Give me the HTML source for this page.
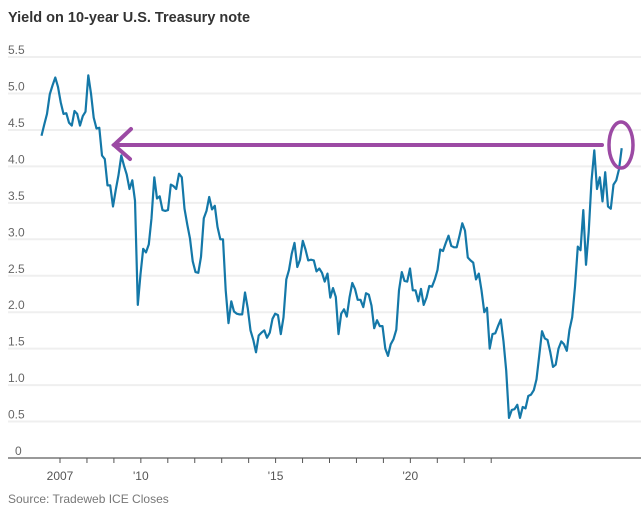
<!DOCTYPE html>
<html><head><meta charset="utf-8"><style>
body{margin:0;background:#fff;width:641px;height:517px;overflow:hidden;font-family:"Liberation Sans",sans-serif}
</style></head><body>
<svg width="641" height="517" id="chart">
<text x="8" y="22" font-size="14.5" font-weight="bold" fill="#333">Yield on 10-year U.S. Treasury note</text>
<text x="8" y="503" font-size="12" fill="#777">Source: Tradeweb ICE Closes</text>
<g id="grid"></g><g id="xaxis"></g>
<path id="line" fill="none" stroke="#1478a8" stroke-width="2.2" stroke-linejoin="round"/>
<g stroke="#9c4aa4" stroke-width="4" fill="none" stroke-linecap="round">
<line x1="114" y1="145" x2="602" y2="145"/>
<polyline points="131,129 114,145 130,159"/>
</g>
<ellipse cx="621" cy="145" rx="12" ry="23" fill="none" stroke="#9c4aa4" stroke-width="3.5"/>
</svg>
<script>
const yTicks=[0,0.5,1.0,1.5,2.0,2.5,3.0,3.5,4.0,4.5,5.0,5.5];
const xTickYears=[2006.56,2007.37,2008.18,2009.0,2009.79,2010.6,2011.42,2012.23,2013.05,2013.86,2014.68,2015.5,2016.3,2017.1,2017.92,2018.76,2019.58];
const xLabels=[{t:2006.56,s:"2007"},{t:2009.0,s:"'10"},{t:2013.05,s:"'15"},{t:2017.1,s:"'20"}];
const startYear=2006.0;
const yields=[
4.42,4.57,4.72,4.99,5.11,5.22,5.09,4.88,4.72,4.73,4.60,4.56,
4.76,4.72,4.56,4.69,4.75,5.25,5.00,4.67,4.52,4.53,4.15,4.10,
3.74,3.74,3.45,3.68,3.88,4.15,4.01,3.89,3.69,3.81,3.53,2.10,
2.52,2.87,2.82,2.93,3.29,3.85,3.56,3.59,3.40,3.39,3.40,3.75,
3.73,3.69,3.90,3.85,3.42,3.20,3.01,2.70,2.55,2.54,2.76,3.29,
3.39,3.58,3.41,3.46,3.17,3.00,3.00,2.30,1.85,2.15,2.01,1.98,
1.97,1.97,2.27,2.05,1.75,1.62,1.45,1.68,1.72,1.75,1.65,1.72,
1.91,1.98,1.96,1.70,1.93,2.45,2.58,2.80,2.95,2.62,2.72,2.98,
2.86,2.71,2.72,2.71,2.56,2.60,2.54,2.42,2.53,2.20,2.33,2.21,
1.70,1.98,2.04,1.94,2.20,2.40,2.32,2.17,2.17,2.07,2.26,2.24,
2.09,1.78,1.89,1.81,1.81,1.50,1.40,1.56,1.63,1.76,2.30,2.55,
2.43,2.42,2.60,2.30,2.30,2.15,2.32,2.10,2.20,2.36,2.35,2.45,
2.58,2.86,2.84,2.95,3.05,2.91,2.89,2.89,3.05,3.22,3.12,2.75,
2.71,2.68,2.45,2.53,2.30,2.00,2.06,1.50,1.70,1.71,1.81,1.90,
1.60,1.20,0.55,0.66,0.67,0.73,0.55,0.70,0.68,0.85,0.87,0.93,
1.08,1.40,1.74,1.64,1.62,1.45,1.25,1.28,1.50,1.60,1.56,1.47,
1.76,1.93,2.35,2.90,2.85,3.40,2.65,3.10,3.80,4.22,3.69,3.85,
3.52,3.92,3.45,3.42,3.75,3.81,3.96,4.25];
const X=t=>58+(t-2006.5)*33;
const Y=v=>458-v*72.9;
const ns="http://www.w3.org/2000/svg";
const grid=document.getElementById('grid');
yTicks.forEach(v=>{
 if(v>0){const l=document.createElementNS(ns,'line');
 l.setAttribute('x1',8);l.setAttribute('x2',641);l.setAttribute('y1',Y(v));l.setAttribute('y2',Y(v));
 l.setAttribute('stroke','#efefef');l.setAttribute('stroke-width','2');
 
 
 grid.appendChild(l);}
 const t=document.createElementNS(ns,'text');
 t.setAttribute('x',v===0?15:8);t.setAttribute('y',Y(v)-3);t.setAttribute('font-size','12');t.setAttribute('fill','#666');
 t.textContent=v===0?'0':v.toFixed(1);
 
 
 grid.appendChild(t);
});
const xa=document.getElementById('xaxis');
const base=document.createElementNS(ns,'line');
base.setAttribute('x1',8);base.setAttribute('x2',641);base.setAttribute('y1',458);base.setAttribute('y2',458);
base.setAttribute('stroke','#999');base.setAttribute('stroke-width','2');


xa.appendChild(base);
xTickYears.forEach((t,i)=>{
 const l=document.createElementNS(ns,'line');
 l.setAttribute('x1',60+i*26.95);l.setAttribute('x2',60+i*26.95);
 l.setAttribute('y1',458);l.setAttribute('y2',463);l.setAttribute('stroke','#555');
 
 
 xa.appendChild(l);
});
xLabels.forEach(o=>{
 const i=xTickYears.indexOf(o.t);
 const t=document.createElementNS(ns,'text');
 t.setAttribute('x',60+i*26.95);t.setAttribute('y',480);t.setAttribute('font-size','12');t.setAttribute('fill','#555');
 t.setAttribute('text-anchor','middle');t.textContent=o.s;
 
 
 xa.appendChild(t);
});
let d='';
yields.forEach((v,i)=>{const t=startYear+i/12;d+=(i?'L':'M')+X(t).toFixed(1)+','+Y(v).toFixed(1);});
document.getElementById('line').setAttribute('d',d);
</script>
</body></html>
